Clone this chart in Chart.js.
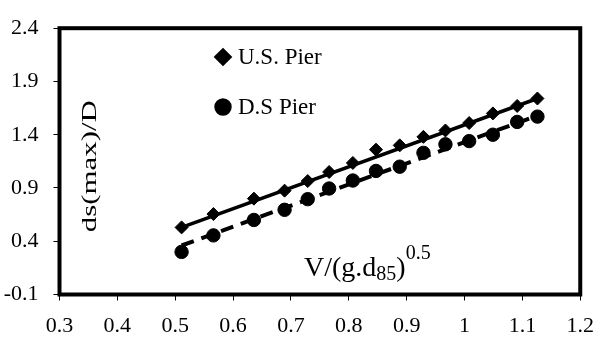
<!DOCTYPE html>
<html lang="en">
  <head>
    <meta charset="UTF-8" />
    <title>Scour depth</title>
    <script src="https://cdn.jsdelivr.net/npm/chart.js@4.4.0/dist/chart.umd.min.js"></script>
    <style>
      body { margin: 0; background: #fff; }
    </style>
  </head>
  <body>
    <canvas id="chart" width="607" height="342"></canvas>
    <script>
      // values
      var froude = [0.511, 0.566, 0.636, 0.689, 0.729, 0.766, 0.807, 0.847, 0.888, 0.929, 0.967, 1.008, 1.049, 1.091, 1.126];
      var usPier = [0.53, 0.655, 0.80, 0.875, 0.965, 1.05, 1.135, 1.26, 1.30, 1.38, 1.44, 1.51, 1.60, 1.67, 1.74];
      var dsPier = [0.30, 0.455, 0.60, 0.695, 0.795, 0.895, 0.97, 1.06, 1.10, 1.23, 1.31, 1.34, 1.40, 1.52, 1.57];

      // trend line ends
      var usTrendX = [0.511, 1.126];
      var usTrendY = [0.53, 1.74];
      var dsTrendX = [0.511, 1.126];
      var dsTrendY = [0.36, 1.58];

      var xTicks = [0.3, 0.4, 0.5, 0.6, 0.7, 0.8, 0.9, 1.0, 1.1, 1.2];
      var yTicks = [-0.1, 0.4, 0.9, 1.4, 1.9, 2.4];

      function pairs(xs, ys) {
        return xs.map((x, i) => ({ x: x, y: ys[i] }));
      }

      Chart.defaults.font.family = "'Liberation Serif', 'Times New Roman', serif";
      Chart.defaults.color = '#000';

      var serif = "'Liberation Serif', serif";

      // frame, axis titles and the in-plot legend
      var decor = {
        id: 'decor',
        afterDraw(chart) {
          var ctx = chart.ctx;
          var a = chart.chartArea;
          ctx.save();
          ctx.strokeStyle = '#000';
          ctx.lineWidth = 4;
          ctx.strokeRect(a.left, a.top, a.right - a.left, a.bottom - a.top);

          ctx.fillStyle = '#000';
          ctx.textBaseline = 'middle';

          // y title, drawn inside the plot
          ctx.save();
          ctx.translate(a.left + 31, a.top + 138);
          ctx.rotate(-Math.PI / 2);
          ctx.font = '21px ' + serif;
          var t = 'ds(max)/D';
          var w = ctx.measureText(t).width;
          ctx.scale(132 / w, 1);
          ctx.textAlign = 'center';
          ctx.fillText(t, 0, 0);
          ctx.restore();

          // x title with subscript and superscript
          ctx.textAlign = 'left';
          ctx.textBaseline = 'alphabetic';
          var x = 304, base = 276;
          ctx.font = '28px ' + serif;
          ctx.fillText('V/(g.d', x, base);
          x += ctx.measureText('V/(g.d').width;
          ctx.font = '20px ' + serif;
          ctx.fillText('85', x, base + 4);
          x += ctx.measureText('85').width;
          ctx.font = '28px ' + serif;
          ctx.fillText(')', x, base);
          x += ctx.measureText(')').width;
          ctx.font = '20px ' + serif;
          ctx.fillText('0.5', x, base - 17);

          // legend
          ctx.textBaseline = 'middle';
          ctx.font = '23px ' + serif;
          var items = [chart.data.datasets[0], chart.data.datasets[1]];
          var rows = [57, 107];
          items.forEach((ds, i) => {
            Chart.helpers.drawPoint(ctx, {
              pointStyle: ds.pointStyle,
              radius: ds.pointRadius,
              borderWidth: 1
            }, 223, rows[i]);
            ctx.fillStyle = '#000';
            ctx.fill();
            ctx.fillText(ds.label, 238, rows[i] + 1);
          });
          ctx.restore();
        }
      };

      var chart = new Chart(document.getElementById('chart'), {
        type: 'scatter',
        data: {
          datasets: [
            {
              label: 'U.S. Pier',
              data: pairs(froude, usPier),
              pointStyle: 'rectRot',
              pointRadius: 6.5,
              backgroundColor: '#000',
              borderColor: '#000'
            },
            {
              label: 'D.S Pier',
              data: pairs(froude, dsPier),
              pointStyle: 'circle',
              pointRadius: 6.7,
              backgroundColor: '#000',
              borderColor: '#000'
            },
            {
              label: 'us trend',
              data: pairs(usTrendX, usTrendY),
              showLine: true,
              pointRadius: 0,
              borderColor: '#000',
              borderWidth: 3.5
            },
            {
              label: 'ds trend',
              data: pairs(dsTrendX, dsTrendY),
              showLine: true,
              pointRadius: 0,
              borderColor: '#000',
              borderWidth: 4,
              borderDash: [13, 8]
            }
          ]
        },
        options: {
          responsive: false,
          animation: false,
          layout: { padding: { top: 17, right: 15, left: 0, bottom: 0 } },
          plugins: {
            legend: { display: false },
            tooltip: { enabled: false }
          },
          scales: {
            x: {
              type: 'linear',
              min: 0.3,
              max: 1.2,
              afterBuildTicks: (s) => { s.ticks = xTicks.map((v) => ({ value: v })); },
              afterFit: (s) => { s.height = 47.5; },
              border: { display: false },
              grid: { drawOnChartArea: false, drawTicks: true, tickLength: 6, tickColor: '#000', lineWidth: 1 },
              ticks: {
                padding: 13,
                font: { size: 22 },
                callback: (v) => String(+v.toFixed(1))
              }
            },
            y: {
              type: 'linear',
              min: -0.1,
              max: 2.4,
              afterBuildTicks: (s) => { s.ticks = yTicks.map((v) => ({ value: v })); },
              afterFit: (s) => { s.width = 59.5; },
              border: { display: false },
              grid: { drawOnChartArea: false, drawTicks: true, tickLength: 6, tickColor: '#000', lineWidth: 1 },
              ticks: {
                padding: 15,
                font: { size: 22 },
                callback: (v) => String(+v.toFixed(1))
              }
            }
          }
        },
        plugins: [decor]
      });
    </script>
  </body>
</html>
